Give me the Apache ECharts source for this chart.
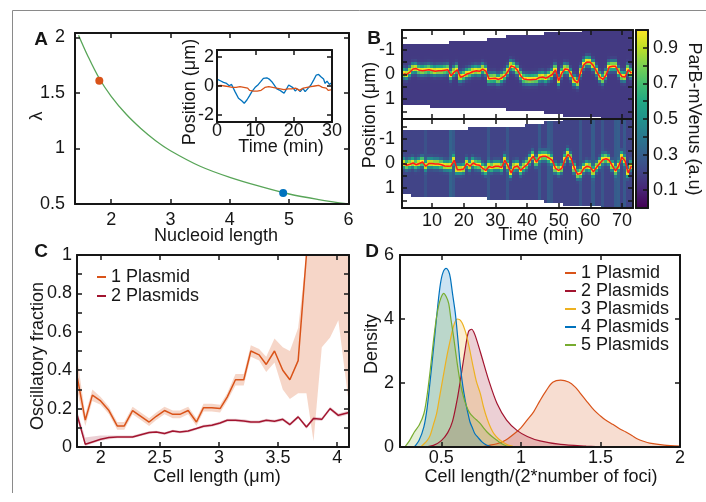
<!DOCTYPE html>
<html>
<head>
<meta charset="utf-8">
<script src="https://cdn.jsdelivr.net/npm/echarts@6/dist/echarts.min.js"></script>
<style>
  html, body { margin: 0; padding: 0; background: #fff; }
  #chart { width: 706px; height: 502px; }
</style>
</head>
<body>
<div id="chart"></div>
<script>
// ---------------- Panel A: decay length vs nucleoid length ----------------
const nucleoidLength = [1.45, 1.6, 1.8, 2.0, 2.25, 2.5, 2.75, 3.0, 3.5, 4.0, 4.5, 5.0, 5.5, 6.0];
const lambdaValues   = [2.02, 1.84, 1.63, 1.47, 1.31, 1.18, 1.07, 0.98, 0.84, 0.74, 0.66, 0.59, 0.54, 0.50];
const markedLength = [1.8, 4.9];
const markedLambda = [1.61, 0.60];

// inset: focus position traces (min, µm)
const blueTime = [0,0.5,1,1.7,2.5,3.2,3.8,4.7,5.6,6.45,7.1,7.8,8.5,9.1,9.9,10.8,11.4,12.1,13,13.6,
  14.3,14.9,15.6,16.3,16.9,17.5,18,18.7,19.1,19.8,20.4,21,21.7,22.4,23,23.9,24.5,25.2,25.9,26.5,
  27.1,27.8,28.2,28.7,29.3,30];
const bluePos = [0.48,0.41,0.35,0.25,0.18,0.02,0.11,-0.39,-0.85,-1.03,-1.2,-0.97,-0.67,-0.39,-0.11,0.11,0.3,0.53,0.57,0.48,
  0.3,0.07,-0.2,-0.28,-0.39,-0.5,-0.28,0.07,0.18,-0.11,-0.34,-0.2,-0.39,-0.16,-0.39,-0.11,0.07,0.41,0.76,0.8,
  0.64,0.48,0.18,0.34,0.11,0.25];
const orangeStep = 0.5; // min between samples
const orangePos = [0,-0.05,0.05,-0.05,0,-0.1,-0.05,-0.15,-0.1,-0.2,-0.1,-0.15,-0.05,-0.15,-0.1,-0.2,-0.15,-0.3,-0.25,-0.35,
  -0.3,-0.35,-0.25,-0.3,-0.2,-0.1,-0.15,-0.05,-0.15,-0.1,-0.2,-0.15,-0.25,-0.2,-0.3,-0.25,-0.35,-0.2,-0.3,-0.2,
  -0.25,-0.15,-0.2,-0.3,-0.2,-0.15,-0.25,-0.1,-0.15,-0.05,-0.1,0,-0.05,0.05,-0.05,-0.1,-0.2,-0.15,-0.3,-0.2,-0.25];

// ---------------- Panel B: kymographs (one column per minute) ----------------
const trackTop = [-0.03,0,-0.1,-0.22,-0.24,-0.17,-0.15,-0.17,-0.19,-0.16,-0.13,-0.15,-0.15,-0.17,-0.19,0.05,-0.1,-0.19,0.11,0.06,
  -0.02,-0.06,-0.12,-0.15,-0.13,-0.22,-0.14,0.17,0.16,0.15,0.2,0.14,0.05,-0.13,-0.35,-0.3,-0.17,0.05,0.18,0.2,
  0.21,0.2,0.19,0.12,0.1,0.15,0.08,0,-0.19,0.25,-0.05,-0.22,-0.2,0,0.25,0.34,-0.1,-0.4,-0.51,-0.5,
  -0.35,-0.13,0.1,0.2,0.02,-0.3,-0.33,-0.33,-0.1,0.08,0.1,-0.19,-0.05];
const trackBottom = [0,0.07,0.03,-0.02,0.05,0,-0.06,0.11,0,0,0.02,0.02,0.05,0.1,0.11,0.1,-0.13,0.25,0.25,0.22,
  0,0.11,-0.02,0.05,0.07,0.2,0.28,0.12,0.16,0.11,0.11,0.16,-0.13,0.1,0.38,0.14,0.1,0.28,0.15,0.05,
  -0.13,-0.29,-0.06,-0.25,-0.29,-0.29,-0.22,-0.13,0.2,0.28,0.2,-0.16,-0.37,-0.2,0.2,0.44,0.4,0.2,0.11,0.15,
  0.34,0.15,0,-0.15,-0.19,-0.13,0.1,0.3,0.1,-0.26,-0.1,0.38,0.1];
// cell outline (µm) every 6 min, from minute 1 to 73
const edgeStep = 6;
const topUpperEdge = [-1.15,-1.2,-1.25,-1.3,-1.35,-1.42,-1.5,-1.55,-1.62,-1.68,-1.75,-1.8,-1.8];
const topLowerEdge = [1.2,1.25,1.28,1.3,1.33,1.37,1.42,1.48,1.55,1.62,1.7,1.8,1.8];
const botUpperEdge = [-1.27,-1.3,-1.33,-1.37,-1.41,-1.45,-1.49,-1.58,-1.68,-1.75,-1.8,-1.8,-1.8];
const botLowerEdge = [1.25,1.28,1.3,1.33,1.36,1.39,1.42,1.48,1.55,1.62,1.68,1.75,1.8];
// brighter background columns in the lower kymograph
const botStreakMin = [8,16,17,28,34,44,47,48,57,61,64,68,69,71];
const botStreakLevel = [0.25,0.32,0.28,0.27,0.27,0.28,0.29,0.27,0.27,0.29,0.27,0.29,0.3,0.28];
const colorbarTicks = [0.1,0.2,0.3,0.4,0.5,0.6,0.7,0.8,0.9];
const colorbarLabels = [0.1,0.3,0.5,0.7,0.9];

// ---------------- Panel C: oscillatory fraction vs cell length ----------------
const cellLength = [1.80,1.87,1.93,2.00,2.07,2.14,2.20,2.27,2.34,2.41,2.47,2.54,2.61,2.67,2.74,2.81,2.87,2.94,3.01,3.07,
  3.14,3.21,3.27,3.34,3.40,3.47,3.54,3.60,3.67,3.74,3.80,3.87,3.94,4.01,4.10];
const osc1 = [0.37,0.14,0.27,0.24,0.19,0.11,0.11,0.19,0.16,0.13,0.16,0.19,0.17,0.17,0.19,0.13,0.205,0.205,0.20,0.26,
  0.35,0.35,0.50,0.48,0.43,0.50,0.40,0.35,0.45,1,1,1,1,1,1];
const osc1Low = [0.30,0.11,0.24,0.22,0.17,0.09,0.09,0.17,0.14,0.11,0.14,0.17,0.15,0.15,0.17,0.11,0.185,0.185,0.18,0.24,
  0.32,0.32,0.47,0.45,0.39,0.44,0.30,0.25,0.28,0.28,0.03,0.52,0.57,0.66,0.22];
const osc1High = [0.47,0.17,0.30,0.26,0.21,0.13,0.13,0.21,0.18,0.15,0.18,0.21,0.19,0.19,0.21,0.15,0.225,0.225,0.22,0.28,
  0.38,0.38,0.53,0.51,0.47,0.565,0.52,0.50,0.62,1,1,1,1,1,1];
const osc2 = [0.17,0.014,0.026,0.04,0.049,0.052,0.052,0.052,0.064,0.075,0.078,0.07,0.083,0.078,0.083,0.096,0.108,0.113,0.125,0.139,
  0.139,0.136,0.13,0.13,0.139,0.134,0.144,0.117,0.157,0.104,0.148,0.144,0.2,0.165,0.18];
const osc2Low = [0.15,0.005,0.018,0.032,0.041,0.045,0.045,0.045,0.057,0.068,0.071,0.063,0.076,0.071,0.076,0.089,0.1,0.105,0.117,0.131,
  0.131,0.128,0.122,0.122,0.131,0.126,0.136,0.108,0.148,0.095,0.139,0.135,0.19,0.155,0.17];
const osc2High = [0.19,0.05,0.055,0.06,0.06,0.06,0.06,0.06,0.071,0.082,0.085,0.077,0.09,0.085,0.09,0.103,0.116,0.121,0.133,0.147,
  0.147,0.144,0.138,0.138,0.147,0.142,0.152,0.126,0.166,0.113,0.157,0.153,0.21,0.175,0.19];

// ---------------- Panel D: density of cell length per focus ----------------
const density1 = [[0.75,0],[0.8,0.05],[0.85,0.1],[0.9,0.2],[0.96,0.42],[1.0,0.6],[1.04,0.85],[1.08,1.1],[1.12,1.45],[1.16,1.77],
  [1.2,2.02],[1.25,2.09],[1.3,2.03],[1.34,1.88],[1.37,1.7],[1.41,1.45],[1.46,1.15],[1.5,0.97],[1.53,0.85],[1.58,0.7],
  [1.62,0.57],[1.66,0.47],[1.7,0.35],[1.73,0.26],[1.77,0.18],[1.81,0.12],[1.9,0.06],[2.0,0.03]];
const density2 = [[0.4,0],[0.45,0.05],[0.5,0.2],[0.54,0.45],[0.57,0.8],[0.6,1.5],[0.62,2.1],[0.645,2.9],[0.67,3.6],[0.69,3.68],
  [0.71,3.52],[0.745,2.97],[0.8,2.05],[0.85,1.36],[0.91,0.84],[0.975,0.52],[1.04,0.33],[1.12,0.19],[1.25,0.08],[1.41,0.03],[1.55,0]];
const density3 = [[0.37,0],[0.41,0.2],[0.43,0.37],[0.45,0.7],[0.47,1.04],[0.49,1.6],[0.515,2.3],[0.535,2.85],[0.556,3.34],[0.575,3.75],
  [0.598,4.0],[0.615,3.98],[0.63,3.88],[0.645,3.7],[0.66,3.45],[0.68,3.0],[0.70,2.5],[0.72,2.05],[0.745,1.67],[0.765,1.25],
  [0.787,0.89],[0.81,0.6],[0.83,0.42],[0.86,0.25],[0.89,0.14],[0.92,0.06],[0.95,0.02]];
const density4 = [[0.33,0],[0.36,0.21],[0.39,0.63],[0.41,1.2],[0.43,2.09],[0.445,2.8],[0.46,3.55],[0.477,4.4],[0.494,5.1],[0.51,5.45],
  [0.53,5.58],[0.545,5.5],[0.556,5.3],[0.57,4.8],[0.588,4.17],[0.605,3.3],[0.62,2.5],[0.635,1.9],[0.65,1.46],[0.665,1.1],
  [0.68,0.78],[0.695,0.6],[0.71,0.42],[0.73,0.3],[0.755,0.16],[0.78,0.07],[0.81,0.02]];
const density5 = [[0.27,0],[0.3,0.2],[0.33,0.47],[0.36,0.68],[0.39,1.04],[0.41,1.6],[0.43,2.4],[0.45,3.3],[0.47,4.07],[0.49,4.55],
  [0.515,4.8],[0.53,4.7],[0.546,4.49],[0.56,4.0],[0.577,3.44],[0.6,2.6],[0.62,1.98],[0.64,1.55],[0.66,1.25],[0.68,1.05],
  [0.70,0.94],[0.72,0.85],[0.745,0.73],[0.765,0.6],[0.787,0.47],[0.82,0.32],[0.85,0.21],[0.88,0.1],[0.91,0.03],[0.94,0]];
const plasmidNames = ['1 Plasmid', '2 Plasmids', '3 Plasmids', '4 Plasmids', '5 Plasmids'];
const plasmidColors = ['#D95319', '#A2142F', '#EDB120', '#0072BD', '#77AC30'];

// ---------------- styling helpers ----------------
const FONT = '"Liberation Sans", Arial, Helvetica, sans-serif';
const INK = '#161616';
const VIRIDIS = ['#440154','#482475','#414487','#355f8d','#2a788e','#21918c','#22a884','#44bf70','#7ad151','#bddf26','#fde725'];
const fmt = v => String(+(+v).toFixed(2));

const xAxis = [], yAxis = [];
function axisDef(grid, pos, r, ticks, labels, margin) {
  return {
    type: 'value', gridIndex: grid, position: pos, min: r.min, max: r.max, inverse: !!r.inverse, z: 10,
    splitLine: { show: false },
    axisLine: { show: true, onZero: false, lineStyle: { color: INK, width: 2 } },
    axisTick: { show: ticks.length > 0, inside: true, length: 5, lineStyle: { color: INK, width: 1.5 }, customValues: ticks },
    axisLabel: labels ? { show: true, customValues: labels, margin: margin, fontSize: 18, fontFamily: FONT,
      color: INK, formatter: fmt, hideOverlap: false } : { show: false },
    axisPointer: { show: false }
  };
}
function box(grid, xr, yr, yLabelsRight) {
  const xi = xAxis.length, yi = yAxis.length;
  xAxis.push(axisDef(grid, 'bottom', xr, xr.ticks, xr.labels, xr.margin));
  xAxis.push(axisDef(grid, 'top', xr, xr.ticks, null));
  yAxis.push(axisDef(grid, 'left', yr, yr.ticks, yLabelsRight ? null : yr.labels, yr.margin));
  yAxis.push(axisDef(grid, 'right', yr, yr.ticks, yLabelsRight ? yr.labels : null, yr.margin));
  return { x: xi, y: yi };
}

const grids = [
  { left: 75, top: 33, width: 274, height: 171 },   // A
  { left: 217, top: 50, width: 115, height: 72 },   // A inset
  { left: 402, top: 30, width: 231, height: 89 },   // B upper
  { left: 402, top: 119, width: 231, height: 89 },  // B lower
  { left: 77, top: 255, width: 272, height: 192 },  // C
  { left: 400, top: 255, width: 280, height: 192 }, // D
  { left: 636, top: 30, width: 12, height: 178 }    // colour bar frame
];

const axA = box(0, { min: 1.39, max: 6.01, ticks: [2,3,4,5,6], labels: [2,3,4,5,6], margin: 7 },
                   { min: 0.5, max: 2.04, ticks: [0.5,1,1.5,2], labels: [0.5,1,1.5,2], margin: 10 });
const axIn = box(1, { min: 0, max: 30, ticks: [0,10,20,30], labels: [0,10,20,30], margin: 0 },
                    { min: -2.5, max: 2.5, ticks: [-2,0,2], labels: [-2,0,2], margin: 3 });
const bTicksX = [10,20,30,40,50,60,70];
const bTicksY = [-1.5,-1,-0.5,0,0.5,1,1.5];
const axB1 = box(2, { min: 0.5, max: 73.5, ticks: bTicksX, labels: null },
                    { min: -1.8, max: 1.8, inverse: true, ticks: bTicksY, labels: [-1,0,1], margin: 7 });
const axB2 = box(3, { min: 0.5, max: 73.5, ticks: bTicksX, labels: bTicksX, margin: 4 },
                    { min: -1.8, max: 1.8, inverse: true, ticks: bTicksY, labels: [-1,0,1], margin: 7 });
const axC = box(4, { min: 1.8, max: 4.1, ticks: [2,2.5,3,3.5,4], labels: [2,2.5,3,3.5,4], margin: 2 },
                   { min: 0, max: 1, ticks: [0,0.1,0.2,0.3,0.4,0.5,0.6,0.7,0.8,0.9,1], labels: [0,0.2,0.4,0.6,0.8,1], margin: 5 });
const axD = box(5, { min: 0.24, max: 2.0, ticks: [0.5,1,1.5,2], labels: [0.5,1,1.5,2], margin: 2 },
                   { min: 0, max: 6, ticks: [0,2,4,6], labels: [0,2,4,6], margin: 6 });
const axCb = box(6, { min: 0, max: 1, ticks: [], labels: null },
                    { min: 0, max: 1, ticks: colorbarTicks, labels: colorbarLabels, margin: 5 }, true);
// colour bar: ticks only on the right edge
yAxis[axCb.y].axisTick.show = false;

// ---------------- kymograph cells ----------------
const ROW = 0.12, SIGMA = 0.125, PEAK = 1.0;
function kymoCells(track, upper, lower, background, streakMin, streakLevel) {
  const cells = [];
  for (let i = 0; i < track.length; i++) {
    const t = i + 1;
    const k = Math.round(i / edgeStep);
    const s = streakMin.indexOf(t);
    const bg = s >= 0 ? streakLevel[s] : background;
    for (let j = 0; j < 30; j++) {
      const y = -1.8 + ROW * (j + 0.5);
      if (y < upper[k] || y > lower[k]) continue;
      const d = y - track[i];
      cells.push([t, +y.toFixed(3), bg + (PEAK - bg) * Math.exp(-d * d / (2 * SIGMA * SIGMA))]);
    }
  }
  return cells;
}
function renderCell(params, api) {
  const t = api.value(0), y = api.value(1);
  const p0 = api.coord([t - 0.5, y - ROW / 2]);
  const p1 = api.coord([t + 0.5, y + ROW / 2]);
  return {
    type: 'rect',
    shape: { x: Math.floor(Math.min(p0[0], p1[0])), y: Math.floor(Math.min(p0[1], p1[1])),
             width: Math.ceil(Math.abs(p1[0] - p0[0])) + 1, height: Math.ceil(Math.abs(p1[1] - p0[1])) + 1 },
    style: { fill: api.visual('color'), stroke: null }
  };
}
// shaded band between two curves of panel C, drawn as one polygon
function bandRenderer(lo, hi, color) {
  return function (params, api) {
    if (params.dataIndex !== 0) return null;
    const pts = [];
    for (let i = 0; i < cellLength.length; i++) pts.push(api.coord([cellLength[i], lo[i]]));
    for (let i = cellLength.length - 1; i >= 0; i--) pts.push(api.coord([cellLength[i], hi[i]]));
    return { type: 'polygon', shape: { points: pts }, style: { fill: color, stroke: null } };
  };
}
const pairs = (xs, ys) => xs.map((x, i) => [x, ys[i]]);
const byMinute = ys => ys.map((y, i) => [i + 1, y]);

const series = [];
// A
series.push({ type: 'line', xAxisIndex: axA.x, yAxisIndex: axA.y, data: pairs(nucleoidLength, lambdaValues),
  smooth: 0.35, symbol: 'none', lineStyle: { color: '#58a558', width: 1.3 }, silent: true });
series.push({ type: 'scatter', xAxisIndex: axA.x, yAxisIndex: axA.y, symbolSize: 8, silent: true, z: 5,
  data: [
    { value: [markedLength[0], markedLambda[0]], itemStyle: { color: '#D95319', opacity: 1 } },
    { value: [markedLength[1], markedLambda[1]], itemStyle: { color: '#0072BD', opacity: 1 } }
  ] });
series.push({ type: 'line', xAxisIndex: axIn.x, yAxisIndex: axIn.y, data: pairs(blueTime, bluePos),
  symbol: 'none', lineStyle: { color: '#0072BD', width: 1.3 }, silent: true });
series.push({ type: 'line', xAxisIndex: axIn.x, yAxisIndex: axIn.y, data: orangePos.map((p, i) => [i * orangeStep, p]),
  symbol: 'none', lineStyle: { color: '#D95319', width: 1.3 }, silent: true });
// B
const heatTopIndex = series.length;
series.push({ type: 'custom', xAxisIndex: axB1.x, yAxisIndex: axB1.y, renderItem: renderCell, silent: true,
  encode: { x: 0, y: 1 }, data: kymoCells(trackTop, topUpperEdge, topLowerEdge, 0.17, [], []) });
series.push({ type: 'line', xAxisIndex: axB1.x, yAxisIndex: axB1.y, data: byMinute(trackTop), z: 5,
  symbol: 'none', lineStyle: { color: '#ff1a1a', width: 1.5 }, silent: true });
const heatBotIndex = series.length;
series.push({ type: 'custom', xAxisIndex: axB2.x, yAxisIndex: axB2.y, renderItem: renderCell, silent: true,
  encode: { x: 0, y: 1 }, data: kymoCells(trackBottom, botUpperEdge, botLowerEdge, 0.2, botStreakMin, botStreakLevel) });
series.push({ type: 'line', xAxisIndex: axB2.x, yAxisIndex: axB2.y, data: byMinute(trackBottom), z: 5,
  symbol: 'none', lineStyle: { color: '#ff1a1a', width: 1.5 }, silent: true });
// C: confidence bands, then the fractions
series.push({ type: 'custom', xAxisIndex: axC.x, yAxisIndex: axC.y, silent: true, z: 1,
  data: cellLength.map((x, i) => [x, osc1Low[i], osc1High[i]]), encode: { x: 0, y: [1, 2] },
  renderItem: bandRenderer(osc1Low, osc1High, 'rgba(217,83,25,0.24)') });
series.push({ type: 'custom', xAxisIndex: axC.x, yAxisIndex: axC.y, silent: true, z: 1,
  data: cellLength.map((x, i) => [x, osc2Low[i], osc2High[i]]), encode: { x: 0, y: [1, 2] },
  renderItem: bandRenderer(osc2Low, osc2High, 'rgba(162,20,47,0.2)') });
series.push({ name: plasmidNames[0], type: 'line', xAxisIndex: axC.x, yAxisIndex: axC.y, data: pairs(cellLength, osc1),
  symbol: 'none', color: plasmidColors[0], lineStyle: { width: 1.5 }, silent: true, z: 4 });
series.push({ name: plasmidNames[1], type: 'line', xAxisIndex: axC.x, yAxisIndex: axC.y, data: pairs(cellLength, osc2),
  symbol: 'none', color: plasmidColors[1], lineStyle: { width: 1.5 }, silent: true, z: 4 });
// D
[density1, density2, density3, density4, density5].forEach((d, i) => {
  series.push({ name: plasmidNames[i], type: 'line', xAxisIndex: axD.x, yAxisIndex: axD.y, data: d,
    smooth: 0.3, symbol: 'none', color: plasmidColors[i], lineStyle: { width: 1.2 },
    areaStyle: { opacity: 0.2 }, silent: true });
});

// ---------------- titles and panel letters ----------------
function label(text, x, y, opts = {}) {
  return { type: 'text', x: x, y: y, rotation: opts.rot || 0, z: 20,
    style: { text: text, x: 0, y: 0, align: 'center', verticalAlign: 'middle', fill: INK,
      font: (opts.bold ? 'bold ' : '') + (opts.size || 18) + 'px ' + FONT } };
}
const R = Math.PI / 2;
const graphics = [
  { type: 'polyline', shape: { points: [[12.5, 493], [12.5, 10.5], [706, 10.5]] }, style: { stroke: '#8a8a8a', lineWidth: 1, fill: null }, z: 0 },
  label('A', 41, 40, { bold: true, size: 19 }),
  label('B', 374, 39, { bold: true, size: 19 }),
  label('C', 41, 252, { bold: true, size: 19 }),
  label('D', 372, 252, { bold: true, size: 19 }),
  label('Nucleoid length', 216, 236),
  label('λ', 37, 116, { rot: R }),
  label('Position (μm)', 190, 92, { rot: R }),
  label('Time (min)', 281, 147),
  label('Position (μm)', 370, 115, { rot: R }),
  label('Time (min)', 541, 235),
  label('ParB-mVenus (a.u)', 694, 119, { rot: -R }),
  label('Oscillatory fraction', 38, 356, { rot: R }),
  label('Cell length (μm)', 217, 477),
  label('Density', 372, 344, { rot: R }),
  label('Cell length/(2*number of foci)', 541, 477)
];

const legendText = { fontSize: 18, fontFamily: FONT, color: INK };
const option = {
  animation: false,
  backgroundColor: '#fff',
  grid: grids,
  xAxis: xAxis,
  yAxis: yAxis,
  visualMap: {
    type: 'continuous', min: 0, max: 1, dimension: 2, seriesIndex: [heatTopIndex, heatBotIndex],
    inRange: { color: VIRIDIS }, orient: 'vertical', left: 636, top: 30, itemWidth: 12, itemHeight: 178,
    padding: 0, calculable: false, text: null, hoverLink: false, realtime: false
  },
  legend: [
    { data: plasmidNames.slice(0, 2), orient: 'vertical', left: 97, top: 268, itemWidth: 9, itemHeight: 2,
      itemGap: 1, icon: 'rect', padding: 0, selectedMode: false, textStyle: legendText },
    { data: plasmidNames, orient: 'vertical', left: 565, top: 264, itemWidth: 11, itemHeight: 2,
      itemGap: 0, icon: 'rect', padding: 0, selectedMode: false, textStyle: legendText }
  ],
  graphic: { elements: graphics },
  series: series
};

const chart = echarts.init(document.getElementById('chart'), null, { renderer: 'canvas' });
chart.setOption(option);
</script>
</body>
</html>
